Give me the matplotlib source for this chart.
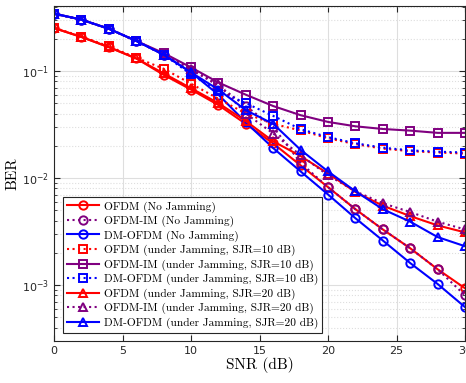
import numpy as np
import matplotlib
matplotlib.use("Agg")
import matplotlib.pyplot as plt
from matplotlib.ticker import LogLocator, NullFormatter

snr = np.arange(0, 31, 2)

# BER values
ofdm_nj = [0.252, 0.208, 0.167, 0.131, 0.092, 0.067, 0.048, 0.032, 0.021, 0.0131,
           0.0082, 0.0051, 0.0033, 0.0022, 0.0014, 0.00093]
ofdmim_nj = [0.344, 0.302, 0.248, 0.191, 0.142, 0.103, 0.073, 0.047, 0.030, 0.0138,
             0.0082, 0.0051, 0.0033, 0.0022, 0.0014, 0.00080]
dm_nj = [0.344, 0.302, 0.248, 0.191, 0.142, 0.097, 0.060, 0.033, 0.019, 0.0115,
         0.0070, 0.0042, 0.0026, 0.0016, 0.00102, 0.00062]
ofdm_j10 = [0.254, 0.210, 0.170, 0.133, 0.105, 0.076, 0.055, 0.040, 0.032, 0.0278,
            0.0235, 0.0207, 0.0188, 0.0178, 0.0173, 0.0169]
ofdmim_j10 = [0.344, 0.302, 0.248, 0.191, 0.147, 0.108, 0.078, 0.060, 0.047, 0.0386,
              0.0334, 0.0304, 0.0287, 0.0277, 0.0264, 0.0264]
dm_j10 = [0.344, 0.302, 0.248, 0.191, 0.142, 0.093, 0.065, 0.050, 0.038, 0.0286,
          0.0241, 0.0211, 0.0192, 0.0181, 0.0176, 0.0173]
ofdm_j20 = [0.252, 0.208, 0.167, 0.131, 0.095, 0.069, 0.050, 0.034, 0.022, 0.0160,
            0.0110, 0.0074, 0.0055, 0.0044, 0.0036, 0.0031]
ofdmim_j20 = [0.344, 0.302, 0.248, 0.191, 0.142, 0.105, 0.075, 0.040, 0.026, 0.0163,
              0.0106, 0.0075, 0.0058, 0.0048, 0.0039, 0.0033]
dm_j20 = [0.344, 0.302, 0.248, 0.191, 0.142, 0.097, 0.067, 0.043, 0.032, 0.0183,
          0.0115, 0.0075, 0.0051, 0.0039, 0.0028, 0.0023]

labels = [
    "OFDM (No Jamming)",
    "OFDM-IM (No Jamming)",
    "DM-OFDM (No Jamming)",
    "OFDM (under Jamming, SJR=10 dB)",
    "OFDM-IM (under Jamming, SJR=10 dB)",
    "DM-OFDM (under Jamming, SJR=10 dB)",
    "OFDM (under Jamming, SJR=20 dB)",
    "OFDM-IM (under Jamming, SJR=20 dB)",
    "DM-OFDM (under Jamming, SJR=20 dB)",
]

red, purple, blue = "#ff0000", "#800080", "#0000ff"
series = [
    (ofdm_nj, red, "-", "o"),
    (ofdmim_nj, purple, ":", "o"),
    (dm_nj, blue, "-", "o"),
    (ofdm_j10, red, ":", "s"),
    (ofdmim_j10, purple, "-", "s"),
    (dm_j10, blue, ":", "s"),
    (ofdm_j20, red, "-", "^"),
    (ofdmim_j20, purple, ":", "^"),
    (dm_j20, blue, "-", "^"),
]

fig = plt.figure(figsize=(4.66, 3.83), dpi=100)
ax = fig.add_axes([0.116, 0.110, 0.882, 0.874])

for (vals, col, ls, mk), lab in zip(series, labels):
    ax.semilogy(snr, vals, color=col, linestyle=ls, marker=mk, markersize=6,
                markerfacecolor="none", markeredgewidth=1.4, linewidth=1.5,
                label=lab)

ax.set_xlim(0, 30)
ax.set_ylim(3e-4, 0.404)
ax.set_xticks([0, 5, 10, 15, 20, 25, 30])
ax.yaxis.set_major_locator(LogLocator(base=10, numticks=10))
ax.yaxis.set_minor_locator(LogLocator(base=10, subs=np.arange(2, 10), numticks=10))
ax.yaxis.set_minor_formatter(NullFormatter())

ax.grid(True, which="major", color="#dedede", linewidth=0.8)
ax.grid(True, which="minor", axis="y", color="#dedede", linestyle=":", linewidth=0.8)
ax.set_axisbelow(True)

ax.tick_params(which="both", direction="in", top=True, right=True,
               labelsize=8, colors="#262626", labelcolor="#262626")
ax.tick_params(which="major", length=4)
ax.tick_params(which="minor", length=2)
for sp in ax.spines.values():
    sp.set_color("#262626")
    sp.set_linewidth(0.8)

ax.set_xlabel("SNR (dB)", fontfamily="cmr10", fontsize=11, labelpad=1)
ax.set_ylabel("BER", fontfamily="cmr10", fontsize=11, labelpad=2)

leg = ax.legend(loc="lower left", bbox_to_anchor=(0.022, 0.024), borderaxespad=0,
                prop={"family": "cmr10", "size": 8.2},
                handlelength=2.8, handletextpad=0.4, borderpad=0.35, labelspacing=0.28,
                fancybox=False, framealpha=1, edgecolor="#262626")
leg.get_frame().set_linewidth(0.8)

fig.savefig("out.png", dpi=100)
